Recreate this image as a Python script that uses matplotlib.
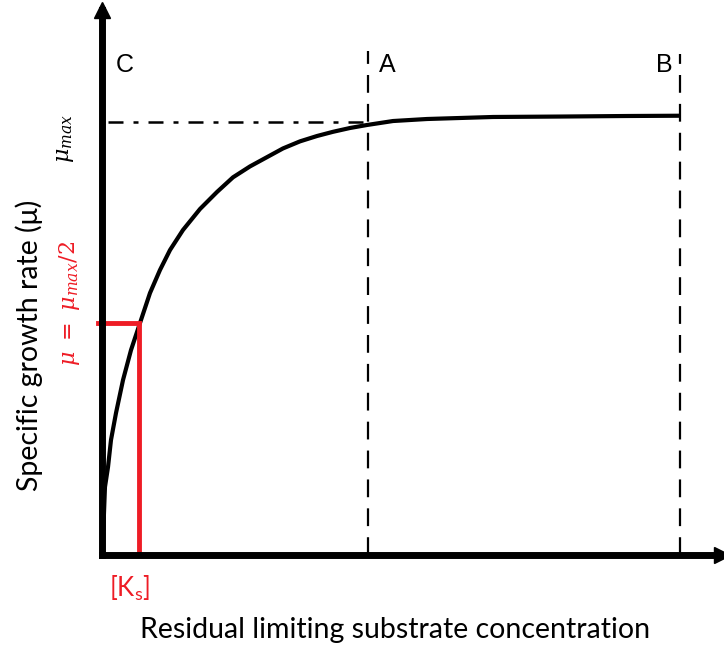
import matplotlib
matplotlib.use("Agg")
import matplotlib.pyplot as plt

# Monod-type growth curve (arbitrary units)
substrate = [0, 0.016, 0.032, 0.048, 0.097, 0.145, 0.226, 0.339, 0.468, 0.613,
             0.774, 0.935, 1.097, 1.306, 1.581, 1.855, 2.113, 2.387, 2.661,
             2.919, 3.194, 3.468, 3.726, 4.0, 4.274, 4.694, 5.242, 6.306,
             7.387, 8.468, 9.32]
growth = [0, 0.275, 0.771, 1.248, 1.615, 2.110, 2.606, 3.211, 3.761, 4.257,
          4.807, 5.229, 5.596, 5.963, 6.349, 6.661, 6.93, 7.13, 7.30,
          7.46, 7.59, 7.688, 7.765, 7.835, 7.890, 7.963, 8.0, 8.037,
          8.045, 8.055, 8.06]
mu_max = 7.94
mu_half = 4.26
ks = 0.6
x_a = 4.29
x_b = 9.32

plt.rcParams['font.family'] = ['Lato', 'DejaVu Sans']
plt.rcParams['mathtext.fontset'] = 'dejavuserif'

fig = plt.figure(figsize=(7.24, 6.46), dpi=100)
ax = fig.add_axes([102/724, 91/646, 620/724, 545/646])
ax.set_xlim(0, 10)
ax.set_ylim(0, 10)
for s in ['top', 'right']:
    ax.spines[s].set_visible(False)
for s in ['left', 'bottom']:
    ax.spines[s].set_linewidth(5)
    ax.spines[s].set_capstyle('projecting')
ax.set_xticks([]); ax.set_yticks([])
ax.plot(1, 0, '>k', ms=11, transform=ax.get_yaxis_transform(), clip_on=False)
ax.plot(0, 1, '^k', ms=11, transform=ax.get_xaxis_transform(), clip_on=False)

# guide lines
ax.plot([0.1, x_a], [mu_max, mu_max], color='k', lw=1.8, dashes=(6, 4, 2, 4))
ax.plot([x_a, x_a], [0, 9.25], color='k', lw=1.6, dashes=(8, 5))
ax.plot([x_b, x_b], [0, 9.2], color='k', lw=1.6, dashes=(8, 5))

# curve
ax.plot(substrate, growth, color='k', lw=3, solid_capstyle='butt',
        solid_joinstyle='round')

# Ks marker
ax.plot([-0.07, ks, ks], [mu_half, mu_half, 0], color='#ee1c25', lw=3.5,
        solid_joinstyle='miter', clip_on=False)

ax.text(0.22, 9.0, 'C', fontsize=18, family='Liberation Sans', ha='left', va='center')
ax.text(x_a + 0.18, 9.0, 'A', fontsize=18, family='Liberation Sans', ha='left', va='center')
ax.text(x_b - 0.12, 9.0, 'B', fontsize=18, family='Liberation Sans', ha='right', va='center')

fig.text(66/724, 1 - 138/646, r'$\mu_{max}$', fontsize=16, rotation=90,
         ha='center', va='center')
fig.text(69/724, 1 - 303/646, r'$\mu\ =\ \mu_{max}/2$', fontsize=16, rotation=90,
         ha='center', va='center', color='#ee1c25')
fig.text(29/724, 1 - 345/646, 'Specific growth rate (\u03bc)', fontsize=20.5,
         rotation=90, ha='center', va='center')
fig.text(130/724, 1 - 588/646, r'[K$_\mathregular{s}$]', fontsize=18.5,
         ha='center', va='center', color='#ee1c25')
fig.text(395/724, 1 - 630/646, 'Residual limiting substrate concentration',
         fontsize=20.5, ha='center', va='center')

fig.savefig('out.png', dpi=100)
